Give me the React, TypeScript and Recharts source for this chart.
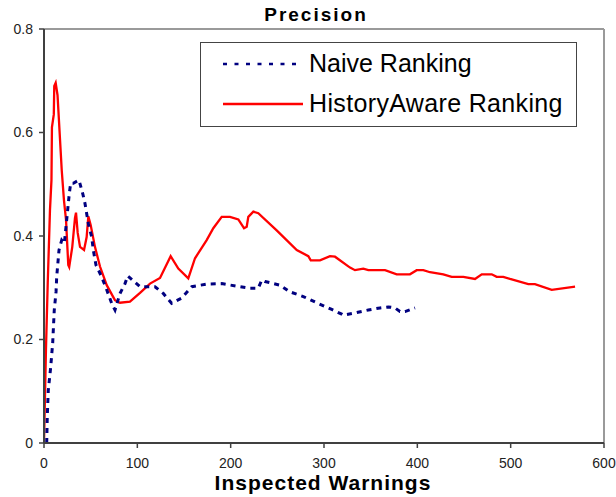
import { LineChart, Line, XAxis, YAxis, ReferenceLine } from "recharts";

const xTicks = [0, 100, 200, 300, 400, 500, 600];
const yTicks = [0, 0.2, 0.4, 0.6, 0.8];

const naiveX = [
  2.9, 3.5, 4.6, 7.2, 9.3, 11, 12.9, 13.6, 16.1, 19, 21.8, 24.3, 27.1, 28.6, 31.4, 37.5, 41.5, 43.9,
  47.5, 51.1, 52.8, 55.7, 61.8, 67.2, 72.5, 76.1, 81.4, 86.8, 89.7, 102.9, 118.9, 127.8, 136.8, 147.5,
  158.3, 174.3, 190.4, 206.5, 220.7, 229.6, 233.3, 236.8, 252.9, 263.6, 277.8, 292.2, 308.3, 319,
  320.7, 335, 347.5, 360, 368.9, 376.1, 381.4, 386.8, 397.5,
];
const naiveY = [
  0, 0.051, 0.102, 0.147, 0.193, 0.257, 0.292, 0.321, 0.373, 0.392, 0.386, 0.431, 0.482, 0.502, 0.502,
  0.508, 0.482, 0.463, 0.424, 0.398, 0.373, 0.344, 0.321, 0.296, 0.27, 0.257, 0.289, 0.308, 0.323,
  0.302, 0.302, 0.289, 0.27, 0.28, 0.302, 0.307, 0.308, 0.303, 0.299, 0.299, 0.315, 0.312, 0.305,
  0.292, 0.283, 0.271, 0.258, 0.249, 0.247, 0.252, 0.257, 0.261, 0.263, 0.261, 0.254, 0.254, 0.261,
];

const historyX = [
  0, 2.1, 4, 6.4, 8, 8.5, 10.5, 11, 12.5, 14.5, 15.5, 19, 21.4, 23.6, 26, 27, 30.3, 33.2, 34.3, 36.1,
  38.6, 42.9, 45.7, 47.5, 50, 54.6, 60, 67.2, 76, 81.4, 92.1, 102.9, 113.6, 124.3, 135.7, 143.9, 154.6,
  161.8, 174.3, 181.4, 190.4, 199.3, 208.2, 214.3, 217.2, 218.9, 224.3, 229.6, 249.3, 270.8, 283.2,
  285.8, 295.7, 306.4, 311.8, 327.9, 333.2, 342.1, 347.5, 365.4, 377.9, 392.1, 399.3, 406.4, 413.6,
  427.8, 436.8, 449.3, 461.8, 469, 479.7, 485, 492.1, 499.3, 518.9, 526, 544, 569,
];
const historyY = [
  0, 0.18, 0.309, 0.45, 0.508, 0.61, 0.635, 0.69, 0.696, 0.672, 0.64, 0.527, 0.469, 0.431, 0.344, 0.34,
  0.379, 0.435, 0.445, 0.406, 0.379, 0.373, 0.398, 0.438, 0.421, 0.379, 0.341, 0.305, 0.276, 0.271,
  0.273, 0.29, 0.308, 0.319, 0.361, 0.337, 0.318, 0.357, 0.392, 0.415, 0.437, 0.437, 0.432, 0.415,
  0.418, 0.437, 0.447, 0.444, 0.411, 0.373, 0.361, 0.353, 0.353, 0.361, 0.36, 0.339, 0.334, 0.337,
  0.334, 0.334, 0.326, 0.326, 0.334, 0.334, 0.33, 0.326, 0.321, 0.321, 0.317, 0.326, 0.326, 0.321,
  0.321, 0.317, 0.307, 0.307, 0.296, 0.302,
];

const naiveData = naiveX.map((x, i) => ({ x, y: naiveY[i] }));
const historyData = historyX.map((x, i) => ({ x, y: historyY[i] }));

const font = "'Liberation Sans', Arial, Helvetica, sans-serif";

export default function App() {
  return (
    <>
      <style>{`html, body { margin: 0; padding: 0; overflow: hidden; }`}</style>
      <div
        style={{
          position: "fixed",
          left: 0,
          top: 0,
          width: 616,
          height: 497,
          overflow: "hidden",
          fontFamily: font,
          background: "#fff",
        }}
      >
        <LineChart width={616} height={497} margin={{ top: 29, right: 12, bottom: 0, left: 0 }}>
          <XAxis
            type="number"
            dataKey="x"
            domain={[0, 600]}
            ticks={xTicks}
            height={54}
            tickSize={5}
            tickMargin={10}
            axisLine={{ stroke: "#404040", strokeWidth: 2 }}
            tickLine={{ stroke: "#404040", strokeWidth: 1.5 }}
            tick={{ fill: "#222", fontSize: 14, fontFamily: font }}
            allowDataOverflow
          />
          <YAxis
            type="number"
            dataKey="y"
            domain={[0, 0.8]}
            ticks={yTicks}
            width={44}
            tickSize={5}
            tickMargin={6}
            tickFormatter={(v: number) => (v === 0 ? "0" : String(v))}
            axisLine={{ stroke: "#404040", strokeWidth: 2 }}
            tickLine={{ stroke: "#404040", strokeWidth: 1.5 }}
            tick={{ fill: "#222", fontSize: 14, fontFamily: font }}
            allowDataOverflow
          />
          <ReferenceLine y={0.8} stroke="#9a9a9a" strokeWidth={2} />
          <ReferenceLine x={600} stroke="#9a9a9a" strokeWidth={2} />
          <Line
            data={historyData}
            dataKey="y"
            type="linear"
            stroke="#ff0000"
            strokeWidth={2.3}
            dot={false}
            isAnimationActive={false}
          />
          <Line
            data={naiveData}
            dataKey="y"
            type="linear"
            stroke="#000080"
            strokeWidth={3}
            strokeDasharray="5 5"
            dot={false}
            isAnimationActive={false}
          />
        </LineChart>
        <div
          style={{
            position: "absolute",
            left: 216,
            width: 200,
            top: 5,
            textAlign: "center",
            fontSize: 19,
            fontWeight: "bold",
            letterSpacing: 2,
            lineHeight: "20px",
          }}
        >
          Precision
        </div>
        <div
          style={{
            position: "absolute",
            left: 173,
            width: 300,
            top: 475,
            textAlign: "center",
            fontSize: 21,
            fontWeight: "bold",
            letterSpacing: 1,
            lineHeight: "16px",
          }}
        >
          Inspected Warnings
        </div>
        <div
          style={{
            position: "absolute",
            left: 200,
            top: 42,
            width: 375,
            height: 83,
            border: "1px solid #444",
            background: "#fff",
          }}
        >
          <svg width={375} height={83} style={{ position: "absolute", left: 0, top: 0 }}>
            <line x1={22} x2={102} y1={21} y2={21} stroke="#000080" strokeWidth={2.5} strokeDasharray="4 7.5" />
            <line x1={22} x2={102} y1={61} y2={61} stroke="#ff0000" strokeWidth={2.3} />
          </svg>
          <div style={{ position: "absolute", left: 108, top: 6, fontSize: 25, lineHeight: "28px", color: "#000" }}>
            Naive Ranking
          </div>
          <div
            style={{
              position: "absolute",
              left: 108,
              top: 46,
              fontSize: 25,
              letterSpacing: 0.35,
              lineHeight: "28px",
              color: "#000",
              whiteSpace: "nowrap",
            }}
          >
            HistoryAware Ranking
          </div>
        </div>
      </div>
    </>
  );
}
